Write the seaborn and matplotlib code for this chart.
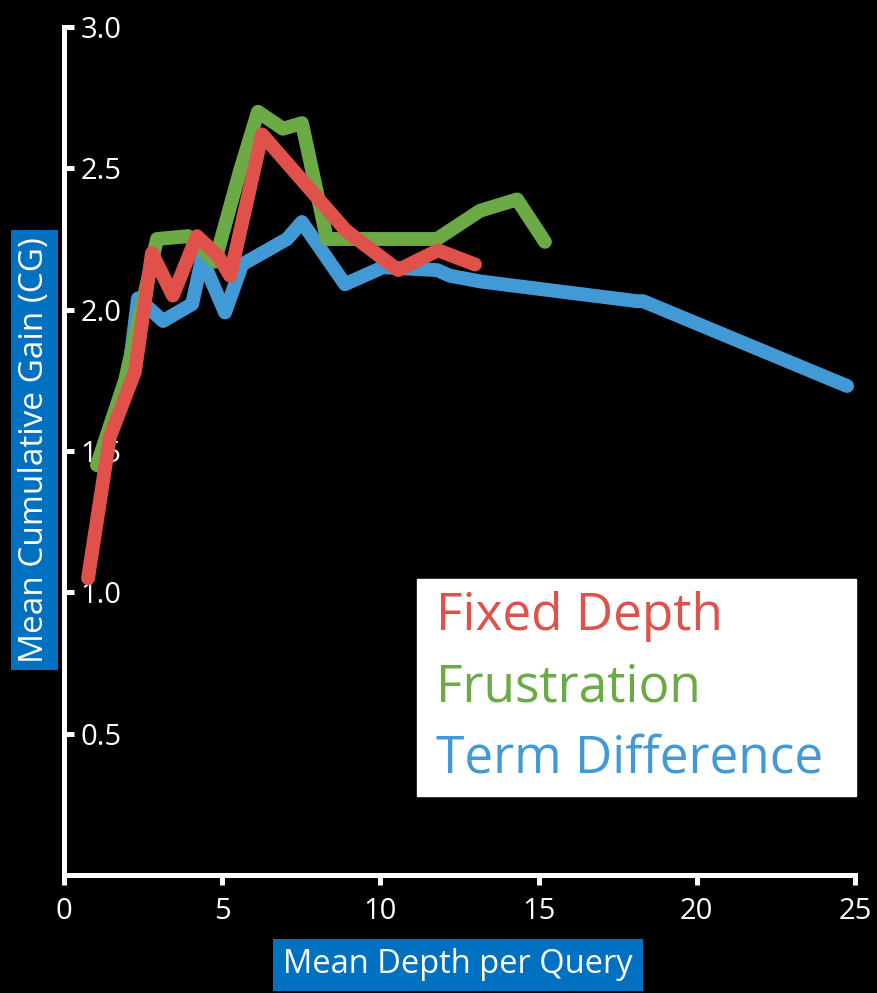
import matplotlib
matplotlib.use("Agg")
import matplotlib.pyplot as plt
import seaborn as sns
import pandas as pd
from matplotlib.lines import Line2D

# ---- data ----
fixed_x = [0.76, 1.45, 2.24, 2.78, 3.44, 4.20, 4.87, 5.25, 6.26, 8.91, 10.56, 11.82, 12.99]
fixed_y = [1.05, 1.55, 1.78, 2.20, 2.05, 2.26, 2.19, 2.12, 2.62, 2.28, 2.14, 2.21, 2.16]

frus_x = [1.04, 1.93, 2.94, 3.92, 4.77, 5.56, 6.13, 6.92, 7.52, 8.31, 11.79, 13.15, 14.32, 15.20]
frus_y = [1.45, 1.75, 2.25, 2.26, 2.17, 2.49, 2.70, 2.64, 2.66, 2.25, 2.25, 2.35, 2.39, 2.24]

term_x = [1.99, 2.34, 3.13, 4.05, 4.36, 5.09, 5.63, 7.05, 7.52, 8.88, 10.08, 11.79, 12.20, 13.15, 18.11, 18.30, 24.75]
term_y = [1.73, 2.04, 1.96, 2.02, 2.18, 1.99, 2.16, 2.25, 2.31, 2.09, 2.15, 2.14, 2.12, 2.10, 2.03, 2.03, 1.73]

series_names = ["Fixed Depth", "Frustration", "Term Difference"]
series_colors = ["#E0514B", "#6BAA44", "#419AD6"]

x_ticks = [0, 5, 10, 15, 20, 25]
y_ticks = [0.5, 1.0, 1.5, 2.0, 2.5, 3.0]
x_label = "Mean Depth per Query"
y_label = "Mean Cumulative Gain (CG)"

rows = []
for name, xs, ys in zip(series_names, [fixed_x, frus_x, term_x], [fixed_y, frus_y, term_y]):
    for xv, yv in zip(xs, ys):
        rows.append({"series": name, "x": xv, "y": yv})
df = pd.DataFrame(rows)

sns.set_theme(style="white")
plt.rcParams["font.family"] = ["Open Sans", "DejaVu Sans"]

fig = plt.figure(figsize=(8.77, 9.93), dpi=100, facecolor="black")
ax = fig.add_axes([64 / 877, 1 - 875 / 993, (855 - 64) / 877, (875 - 27) / 993])
ax.set_facecolor("black")

palette = dict(zip(series_names, series_colors))
draw_order = ["Term Difference", "Frustration", "Fixed Depth"]
sns.lineplot(data=df, x="x", y="y", hue="series", hue_order=draw_order,
             palette=palette, estimator=None, sort=False, linewidth=10,
             legend=False, ax=ax)
for ln in ax.get_lines():
    ln.set_solid_capstyle("round")
    ln.set_solid_joinstyle("round")

ax.set_xlim(0, 25)
ax.set_ylim(0, 3.0)
ax.set_xticks(x_ticks)
ax.set_yticks(y_ticks)
ax.set_xticklabels([str(v) for v in x_ticks])
ax.set_yticklabels([f"{v:.1f}" for v in y_ticks])

for side in ["top", "right"]:
    ax.spines[side].set_visible(False)
for side in ["left", "bottom"]:
    ax.spines[side].set_color("white")
    ax.spines[side].set_linewidth(3.6)
    ax.spines[side].set_capstyle("projecting")

ax.tick_params(axis="x", bottom=True, direction="out", length=7, width=3.6, color="white",
               labelcolor="white", labelsize=21, pad=9)
ax.tick_params(axis="y", left=True, direction="in", length=7, width=3.6, color="white",
               labelcolor="white", labelsize=21, pad=-12)
plt.setp(ax.get_yticklabels(), ha="left")

ax.set_xlabel(x_label, color="white", fontsize=23.5,
              bbox=dict(facecolor="#0070C0", edgecolor="none", pad=7))
ax.xaxis.set_label_coords(0.498, -0.106)
ax.xaxis.label.set_va("center")
ax.set_ylabel(y_label, color="white", fontsize=24,
              bbox=dict(facecolor="#0070C0", edgecolor="none", pad=5))
ax.yaxis.set_label_coords(-0.0373, 0.501)
ax.yaxis.label.set_va("center")

handles = [Line2D([], [], color=c, linewidth=0) for c in series_colors]
leg = ax.legend(handles, series_names, loc="lower left",
                bbox_to_anchor=(0.446, 0.093, 0.555, 0.255), mode="expand",
                frameon=True, fancybox=False, framealpha=1, facecolor="white",
                edgecolor="white", fontsize=37, handlelength=0.15, handletextpad=0,
                labelcolor=series_colors, labelspacing=0.4, borderpad=0.22,
                borderaxespad=0)

fig.savefig("out.png", dpi=100, facecolor="black")
